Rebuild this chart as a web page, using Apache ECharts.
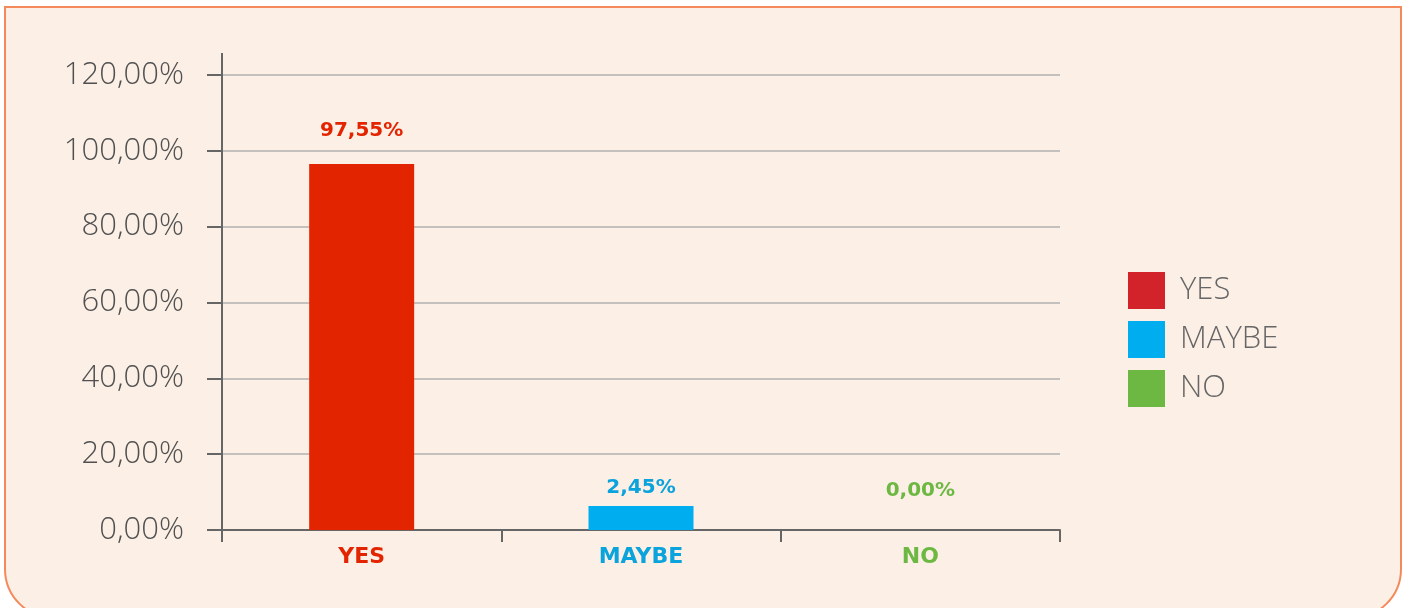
<!DOCTYPE html>
<html>
<head>
<meta charset="utf-8">
<script src="https://cdn.jsdelivr.net/npm/echarts@6/dist/echarts.min.js"></script>
<style>
  html, body { margin: 0; padding: 0; background: #fff; }
  .frame {
    position: absolute; left: 4px; top: 6px; width: 1394px; height: 609px;
    background: #fcefe6; border: 2px solid #f48a5c; border-radius: 0 0 50px 50px;
    overflow: hidden;
  }
  #chart { position: absolute; left: 0; top: 0; width: 1405px; height: 608px; }
</style>
</head>
<body>
<div class="frame"></div>
<div id="chart"></div>
<script>
const categories = ["YES", "MAYBE", "NO"];
// bar heights as drawn (percent)
const barValues = [96.5, 6.3, 0];
// label texts as printed
const labelTexts = ["97,55%", "2,45%", "0,00%"];
const barColors = ["#e32400", "#00aeef", "#6db843"];
const legendColors = ["#d2232a", "#00aeef", "#6db843"];
const labelColors = ["#e32400", "#0aa3dc", "#6db843"];
const labelGaps = [23, 8, 29];
const yTicks = [0, 20, 40, 60, 80, 100, 120];

const chart = echarts.init(document.getElementById("chart"));

const series = categories.map((name, i) => ({
  name: name,
  type: "bar",
  stack: "all",
  barWidth: 105,
  itemStyle: { color: barColors[i] },
  data: categories.map((c, j) => (j === i ? {
    value: barValues[i],
    label: {
      show: true,
      position: "top",
      distance: labelGaps[i],
      formatter: labelTexts[i],
      color: labelColors[i],
      fontFamily: "DejaVu Sans",
      fontWeight: "bold",
      fontSize: 20
    }
  } : "-"))
}));

chart.setOption({
  backgroundColor: "transparent",
  animation: false,
  grid: { left: 222, right: 345, top: 75, bottom: 78 },
  legend: {
    orient: "vertical",
    left: 1123,
    top: 267,
    itemWidth: 37,
    itemHeight: 37,
    itemGap: 12,
    icon: "rect",
    textStyle: { color: "#666", fontSize: 31, fontFamily: "Open Sans", fontWeight: 300, padding: [8, 0, 0, 10] },
    data: categories.map((c, i) => ({ name: c, itemStyle: { color: legendColors[i] } }))
  },
  xAxis: {
    type: "category",
    data: categories,
    axisLine: { lineStyle: { color: "#666", width: 2 } },
    axisTick: { show: true, length: 12, lineStyle: { color: "#666", width: 2 } },
    axisLabel: {
      margin: 16,
      fontFamily: "DejaVu Sans",
      fontWeight: "bold",
      fontSize: 22,
      color: (v, i) => labelColors[categories.indexOf(v)]
    }
  },
  yAxis: {
    type: "value",
    min: yTicks[0],
    max: yTicks[yTicks.length - 1],
    interval: 20,
    axisLine: { show: true, lineStyle: { color: "#666", width: 2 } },
    axisTick: { show: true, length: 15, lineStyle: { color: "#666", width: 2 } },
    splitLine: { lineStyle: { color: "#b0b0b0", width: 1.5 } },
    axisLabel: {
      margin: 38,
      fontFamily: "Open Sans",
      fontWeight: 300,
      fontSize: 31,
      color: "#505050",
      formatter: v => v.toFixed(2).replace(".", ",") + "%"
    }
  },
  series: series
});

// y axis line runs a bit above the top tick
const topY = chart.convertToPixel({ yAxisIndex: 0 }, yTicks[yTicks.length - 1]);
const axisX = 222;
chart.setOption({
  graphic: [{
    type: "line",
    shape: { x1: axisX, y1: topY - 22, x2: axisX, y2: topY },
    style: { stroke: "#666", lineWidth: 2 }
  }]
});
</script>
</body>
</html>
